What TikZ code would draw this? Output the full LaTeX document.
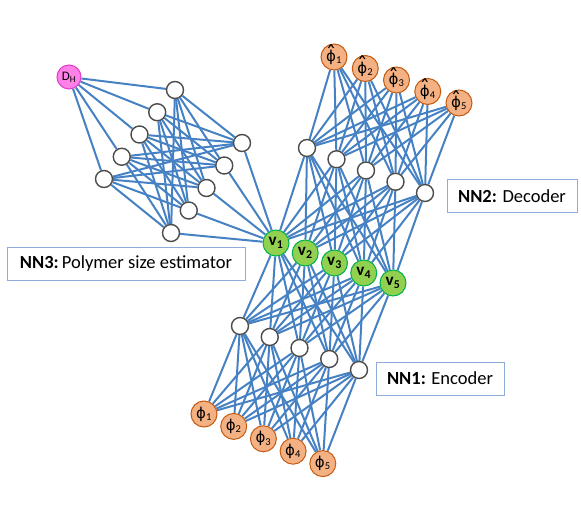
\documentclass[tikz,border=0pt]{standalone}
\usepackage{fontspec}
\setmainfont{Carlito}
\newfontfamily\phifont{DejaVu Sans}
\usetikzlibrary{backgrounds}
\definecolor{edgeblue}{RGB}{70,130,195}
\definecolor{phifill}{RGB}{244,177,131}
\definecolor{philine}{RGB}{197,90,17}
\definecolor{vfill}{RGB}{146,208,80}
\definecolor{vline}{RGB}{0,176,80}
\definecolor{dfill}{RGB}{255,128,230}
\definecolor{dline}{RGB}{220,60,200}
\definecolor{boxline}{RGB}{143,170,220}
\newcommand{\phisym}{{\phifont\fontsize{15}{16}\selectfont ϕ}}
\newcommand{\hatphi}{\ooalign{\phisym\cr\hidewidth\raisebox{0.5pt}{\phifont\fontsize{21}{21}\selectfont\char"02C6}\hidewidth\cr}}
\tikzset{
  link/.style={edgeblue, line width=2pt},
  hidden/.style={circle, draw=black!70, fill=white, line width=1.4pt, minimum size=17pt, inner sep=0pt},
  inval/.style={circle, draw=philine, fill=phifill, line width=1pt, minimum size=26pt, inner sep=0pt, font=\fontsize{15}{16}\selectfont},
  latent/.style={circle, draw=vline, fill=vfill, line width=1pt, minimum size=26pt, inner sep=0pt, font=\fontsize{17}{18}\selectfont\bfseries},
  target/.style={circle, draw=dline, fill=dfill, line width=1pt, minimum size=24pt, inner sep=0pt, font=\fontsize{13}{14}\selectfont},
  namebox/.style={draw=boxline, fill=white, line width=0.8pt, minimum height=33pt, inner sep=2pt, font=\fontsize{18.5}{20}\selectfont},
}
\begin{document}
\begin{tikzpicture}[x=1pt,y=-1pt]
    \useasboundingbox (0,0) rectangle (581,510);
    %% encoder: inputs, hidden layer
    \foreach \i in {1,...,5} {
        \node[inval] (p\i) at ({204+29.7*(\i-1)},{414+12.4*(\i-1)}) {\phisym\textsubscript{\i}};
        \node[hidden] (eh\i) at ({240+29.75*(\i-1)},{326+11*(\i-1)}) {};
    }
    %% latent variables
    \foreach \i in {1,...,5}
        \node[latent] (v\i) at ({276+29.25*(\i-1)},{243+10*(\i-1)}) {v\textsubscript{\i}};
    %% decoder: hidden layer, outputs
    \foreach \i in {1,...,5} {
        \node[hidden] (dh\i) at ({307+29.5*(\i-1)},{148+11.25*(\i-1)}) {};
        \node[inval] (q\i) at ({334+31.25*(\i-1)},{57+11.5*(\i-1)}) {\hatphi\textsubscript{\i}};
    }
    %% size estimator
    \node[target] (dh) at (69,77) {D\textsubscript{H}};
    \foreach \i in {1,...,5} {
        \node[hidden] (a\i) at ({175-17.75*(\i-1)},{90+22.25*(\i-1)}) {};
        \node[hidden] (b\i) at ({242-17.75*(\i-1)},{143+22.5*(\i-1)}) {};
    }
    %% connections
    \begin{scope}[on background layer]
        \foreach \i in {1,...,5} {
            \foreach \j in {1,...,5} {
                \draw[link] (p\i) -- (eh\j);
                \draw[link] (eh\i) -- (v\j);
                \draw[link] (v\i) -- (dh\j);
                \draw[link] (dh\i) -- (q\j);
                \draw[link] (a\i) -- (b\j);
            }
            \draw[link] (dh) -- (a\i);
            \draw[link] (b\i) -- (v1);
        }
    \end{scope}
    %% labels
    \node[namebox, minimum width=130pt] (nn2) at (512,196) {\textbf{NN2:} Decoder};
    \node[namebox, minimum width=128pt] (nn1) at (440,378.5) {\textbf{NN1:} Encoder};
    \node[namebox, minimum width=238pt] (nn3) at (126,264) {\textbf{NN3:}\,Polymer size estimator};
\end{tikzpicture}
\end{document}
